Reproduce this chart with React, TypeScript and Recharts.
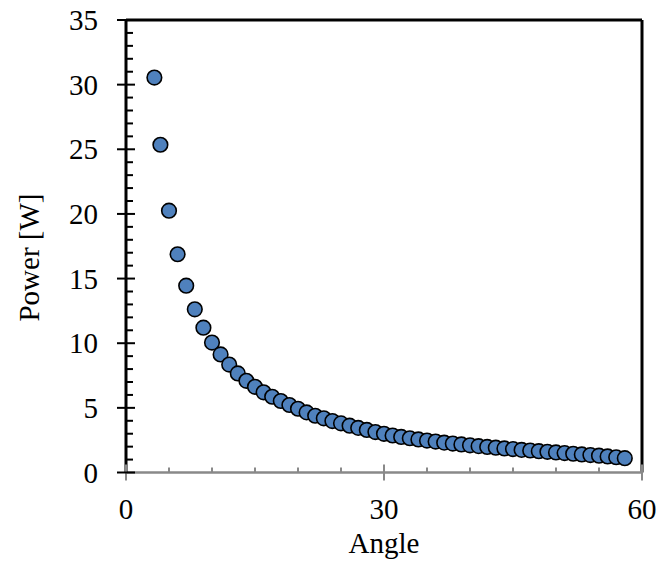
import {
  ScatterChart,
  Scatter,
  XAxis,
  YAxis,
  ReferenceLine,
} from "recharts";

const angles = [
  3.3, 4, 5, 6, 7, 8, 9, 10, 11, 12, 13, 14, 15, 16, 17, 18, 19, 20, 21, 22,
  23, 24, 25, 26, 27, 28, 29, 30, 31, 32, 33, 34, 35, 36, 37, 38, 39, 40, 41,
  42, 43, 44, 45, 46, 47, 48, 49, 50, 51, 52, 53, 54, 55, 56, 57, 58,
];

const power = [
  30.55, 25.35, 20.25, 16.88, 14.45, 12.62, 11.2, 10.05, 9.13, 8.35, 7.66,
  7.09, 6.63, 6.2, 5.86, 5.53, 5.22, 4.93, 4.65, 4.39, 4.19, 3.98, 3.8, 3.62,
  3.45, 3.29, 3.13, 2.99, 2.86, 2.75, 2.65, 2.56, 2.47, 2.39, 2.31, 2.24, 2.17,
  2.1, 2.04, 1.98, 1.92, 1.86, 1.81, 1.75, 1.7, 1.65, 1.6, 1.55, 1.5, 1.45,
  1.4, 1.35, 1.3, 1.24, 1.18, 1.11,
];

const xLabels = [0, 30, 60];
const xTicks = [0, 5, 10, 15, 20, 25, 30, 35, 40, 45, 50, 55, 60];
const yLabels = [0, 5, 10, 15, 20, 25, 30, 35];
const yTicks = Array.from({ length: 36 }, (_, i) => i);

const data = angles.map((a, i) => ({ angle: a, power: power[i] }));

const FONT = "'Liberation Serif', 'Times New Roman', serif";
const GRAY = "#898989";
const BLUE = "#4F81BD";

// x ticks: short marks pointing up every 5, crossing marks + labels at 0/30/60
const XTick = ({ x, y, payload }: any) => {
  const v = payload.value;
  const major = xLabels.includes(v);
  return (
    <g>
      {major ? (
        <line x1={x} x2={x} y1={y - 8} y2={y + 8} stroke={GRAY} strokeWidth={2} />
      ) : (
        <line x1={x} x2={x} y1={y - 5} y2={y} stroke={GRAY} strokeWidth={2} />
      )}
      {major && (
        <text
          x={x}
          y={y + 46.5}
          textAnchor="middle"
          fill="#000"
          fontSize={29}
          fontFamily={FONT}
        >
          {v}
        </text>
      )}
    </g>
  );
};

// y ticks: minor marks inside every 1, crossing marks + labels every 5
const YTick = ({ x, y, payload }: any) => {
  const v = payload.value;
  const major = yLabels.includes(v);
  return (
    <g>
      {major ? (
        <line x1={x - 9} x2={x + 9} y1={y} y2={y} stroke="#000" strokeWidth={2} />
      ) : (
        <line x1={x} x2={x + 7} y1={y} y2={y} stroke="#000" strokeWidth={2} />
      )}
      {major && (
        <text
          x={x - 28}
          y={y}
          dy="0.35em"
          textAnchor="end"
          fill="#000"
          fontSize={29}
          fontFamily={FONT}
        >
          {v}
        </text>
      )}
    </g>
  );
};

export default function App() {
  return (
    <>
      <style>{"body{margin:0}"}</style>
      <ScatterChart
        width={659}
        height={563}
        margin={{ top: 20, right: 17, left: 0, bottom: 0 }}
      >
        <XAxis
          type="number"
          dataKey="angle"
          domain={[0, 60]}
          ticks={xTicks}
          interval={0}
          height={90.5}
          tickSize={0}
          tickMargin={0}
          tickLine={false}
          axisLine={{ stroke: GRAY, strokeWidth: 2.5 }}
          tick={XTick}
          label={({ viewBox }: any) => (
            <text
              x={viewBox.x + viewBox.width / 2}
              y={viewBox.y + 80.5}
              textAnchor="middle"
              fill="#000"
              fontSize={29}
              fontFamily={FONT}
            >
              Angle
            </text>
          )}
        />
        <YAxis
          type="number"
          dataKey="power"
          domain={[0, 35]}
          ticks={yTicks}
          interval={0}
          width={126}
          tickSize={0}
          tickMargin={0}
          tickLine={false}
          axisLine={{ stroke: "#000", strokeWidth: 3 }}
          tick={YTick}
          label={({ viewBox }: any) => {
            const cx = viewBox.x + 29;
            const cy = viewBox.y + 237.5;
            return (
              <text
                x={cx}
                y={cy}
                transform={`rotate(-90, ${cx}, ${cy})`}
                textAnchor="middle"
                dominantBaseline="central"
                fill="#000"
                fontSize={29}
                fontFamily={FONT}
              >
                Power [W]
              </text>
            );
          }}
        />

        <ReferenceLine y={35} stroke="#000" strokeWidth={3} />
        <ReferenceLine x={60} stroke="#000" strokeWidth={3} />

        <Scatter
          data={data}
          isAnimationActive={false}
          shape={(p: any) => (
            <circle
              cx={p.cx}
              cy={p.cy}
              r={7.3}
              fill={BLUE}
              stroke="#000"
              strokeWidth={1.6}
            />
          )}
        />
      </ScatterChart>
    </>
  );
}
